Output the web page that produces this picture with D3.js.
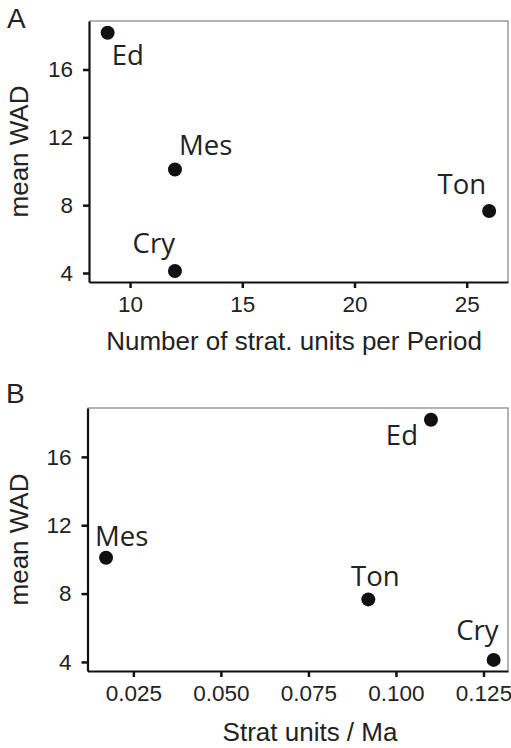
<!DOCTYPE html>
<html>
<head>
<meta charset="utf-8">
<script src="https://cdn.jsdelivr.net/npm/d3@7"></script>
<style>
  html, body { margin: 0; padding: 0; background: #fff; }
  svg { display: block; }
</style>
</head>
<body>
<script>
// ---- Data ----
const periods = ["Ed", "Mes", "Ton", "Cry"];
const meanWAD = [18.17, 10.1, 7.66, 4.12];
const unitsPerPeriod = [9, 12, 26, 12];
const unitsPerMa = [0.110, 0.0172, 0.0921, 0.1279];
const yTicks = [4, 8, 12, 16];
const xTicksA = [10, 15, 20, 25];
const xTicksB = [0.025, 0.050, 0.075, 0.100, 0.125];

// ---- Layout (styling / label offsets) ----
const W = 511, H = 748;
const svg = d3.select("body").append("svg").attr("width", W).attr("height", H);

const panels = [
  { letter: "A", xs: unitsPerPeriod, xDomain: [8.17, 26.84], xTicks: xTicksA, fmt: d3.format("d"),
    title: "Number of strat. units per Period",
    box: { left: 89, right: 508, top: 21, bottom: 282 },
    letterPos: [7, 28], titleX: 294, titleY: 350,
    labelOff: { Ed: [4, 32, "start"], Mes: [4, -15, "start"], Ton: [-3, -17, "end"], Cry: [0, -18, "end"] } },
  { letter: "B", xs: unitsPerMa, xDomain: [0.0119, 0.132], xTicks: xTicksB, fmt: d3.format(".3f"),
    title: "Strat units / Ma",
    box: { left: 87.5, right: 508, top: 408, bottom: 671 },
    letterPos: [6, 403], titleX: 310, titleY: 741,
    labelOff: { Ed: [-13, 25, "end"], Mes: [-11, -12, "start"], Ton: [7, -13, "middle"], Cry: [5, -20, "end"] } }
];

const tickFont = "'Liberation Sans', Arial, Helvetica, sans-serif";
const ptFont = "'Open Sans', 'Noto Sans', sans-serif";

panels.forEach(p => {
  const b = p.box;
  const x = d3.scaleLinear().domain(p.xDomain).range([b.left, b.right]);
  const y = d3.scaleLinear().domain([3.47, 18.86]).range([b.bottom, b.top]);
  const g = svg.append("g");

  // top & right border (light gray)
  g.append("path")
    .attr("d", `M${b.left},${b.top}H${b.right}V${b.bottom}`)
    .attr("fill", "none").attr("stroke", "#9a9a9a").attr("stroke-width", 1.5);

  // y axis
  const ya = g.append("g").attr("transform", `translate(${b.left},0)`)
    .call(d3.axisLeft(y).tickValues(yTicks).tickSize(6).tickPadding(10).tickSizeOuter(0));
  ya.select(".domain").attr("stroke", "#111").attr("stroke-width", 2.2);
  ya.selectAll(".tick line").attr("stroke", "#111").attr("stroke-width", 2.5);
  ya.selectAll(".tick text").attr("font-family", tickFont).attr("font-size", 22.5).attr("fill", "#222");

  // x axis
  const xa = g.append("g").attr("transform", `translate(0,${b.bottom})`)
    .call(d3.axisBottom(x).tickValues(p.xTicks).tickFormat(p.fmt).tickSize(6).tickPadding(8).tickSizeOuter(0));
  xa.select(".domain").attr("stroke", "#111").attr("stroke-width", 2.2);
  xa.selectAll(".tick line").attr("stroke", "#111").attr("stroke-width", 2.5);
  xa.selectAll(".tick text").attr("font-family", tickFont).attr("font-size", 22.5).attr("fill", "#222");

  // points
  g.selectAll("circle.pt").data(periods).enter().append("circle")
    .attr("class", "pt")
    .attr("cx", (d, i) => x(p.xs[i]))
    .attr("cy", (d, i) => y(meanWAD[i]))
    .attr("r", 7).attr("fill", "#111");

  // point labels
  g.selectAll("text.pl").data(periods).enter().append("text")
    .attr("class", "pl")
    .attr("x", (d, i) => x(p.xs[i]) + p.labelOff[d][0])
    .attr("y", (d, i) => y(meanWAD[i]) + p.labelOff[d][1])
    .attr("text-anchor", d => p.labelOff[d][2])
    .attr("font-family", ptFont).attr("font-size", 27.5).attr("fill", "#222")
    .text(d => d);

  // axis titles
  g.append("text")
    .attr("x", p.titleX).attr("y", p.titleY)
    .attr("text-anchor", "middle")
    .attr("font-family", tickFont).attr("font-size", 26).attr("fill", "#222")
    .text(p.title);
  g.append("text")
    .attr("transform", `translate(28,${(b.top + b.bottom) / 2}) rotate(-90)`)
    .attr("text-anchor", "middle")
    .attr("font-family", tickFont).attr("font-size", 26).attr("fill", "#222")
    .text("mean WAD");

  // panel letter
  g.append("text")
    .attr("x", p.letterPos[0]).attr("y", p.letterPos[1])
    .attr("font-family", tickFont).attr("font-size", 28).attr("fill", "#222")
    .text(p.letter);
});
</script>
</body>
</html>
